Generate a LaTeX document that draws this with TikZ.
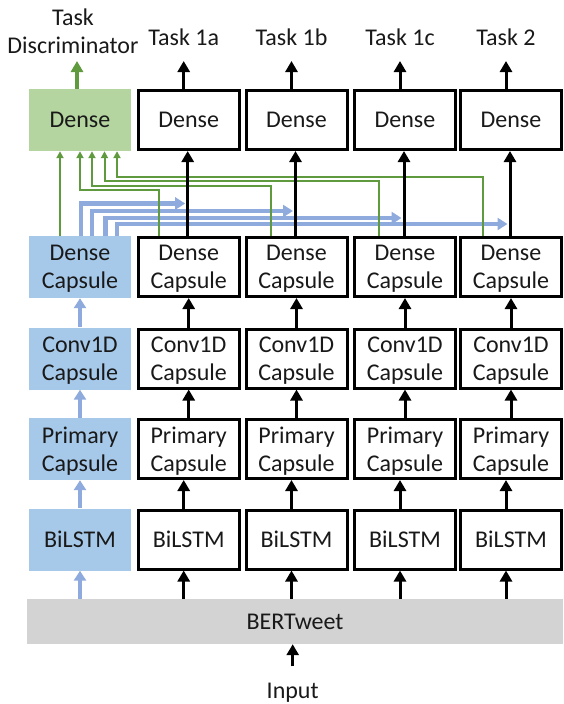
\documentclass[tikz,border=0pt]{standalone}
\usepackage{fontspec}
\setmainfont{Carlito}
\usetikzlibrary{arrows.meta,calc}
\definecolor{gfill}{HTML}{B4D59F}
\definecolor{bfill}{HTML}{A6C9EA}
\definecolor{barrow}{HTML}{8FAADC}
\definecolor{gline}{HTML}{5F9A3E}
\definecolor{bertgray}{HTML}{D3D3D3}
\begin{document}
\begin{tikzpicture}[x=1pt,y=-1pt,
  txt/.style={font=\fontsize{24}{28}\selectfont, align=center, inner sep=0pt, text depth=0pt, text=black!90},
  blk/.style={txt, draw=black, line width=3pt, minimum width=101pt, minimum height=59pt},
  lft/.style={txt, minimum width=102pt, minimum height=62pt},
  karrow/.style={draw=black, line width=3pt, -{Triangle[width=12pt,length=11pt]}},
  barr/.style={draw=barrow, line width=4.5pt, line join=miter, -{Triangle[width=12pt,length=10pt]}},
  garr/.style={draw=gline, line width=2pt, line join=miter, -{Triangle[width=7pt,length=7pt]}},
  gbig/.style={draw=gline, line width=4pt, -{Triangle[width=12pt,length=11pt]}},
]
\useasboundingbox (0,0) rectangle (563,704);

% left (shared) column
\node[lft, fill=gfill] (gD)  at (80,120)   {Dense};
\node[lft, fill=bfill] (bDC) at (80,267)   {Dense\\Capsule};
\node[lft, fill=bfill] (bCv) at (80,358.5) {Conv1D\\Capsule};
\node[lft, fill=bfill] (bPr) at (80,449)   {Primary\\Capsule};
\node[lft, fill=bfill] (bBi) at (80,539.5) {BiLSTM};

% BERTweet and input
\node[txt, fill=bertgray, minimum width=536pt, minimum height=45pt] (bert) at (295,621.5) {BERTweet};
\node[txt, anchor=base] (inp) at (292.7,698) {Input};

% task discriminator label
\node[txt, anchor=north] (TD) at (73,9) {Task\\Discriminator};
\coordinate (tipD) at (77,61);

% task columns
\foreach \i/\x/\lab in {1/188.7/Task 1a,2/296.5/Task 1b,3/405/Task 1c,4/511/Task 2}{
  \node[blk] (D\i)  at (\x,120)   {Dense};
  \node[blk] (DC\i) at (\x,267)   {Dense\\Capsule};
  \node[blk] (Cv\i) at (\x,358.5) {Conv1D\\Capsule};
  \node[blk] (Pr\i) at (\x,449)   {Primary\\Capsule};
  \node[blk] (Bi\i) at (\x,539.5) {BiLSTM};
  \node[txt, anchor=base] (T\i) at (\x-5,45) {\lab};
  \coordinate (tip\i) at (\x-5,61);
}

% blue shared-feature arrows
\foreach \i/\bx/\by in {1/81/203.5,2/92/211,3/105.5/218,4/117/224}{
  \draw[barr] (bDC.north -| \bx,0) |- ([xshift=-3.5pt]DC\i.north |- 0,\by);
}

% green feedback lines to task discriminator
\draw[garr] (bDC.north -| 60,0) -- (gD.south -| 60,0);
\foreach \i/\gx/\gy/\vx in {1/159/190/80,2/271/185.5/92,3/379/181/104.5,4/483/177/117}{
  \draw[garr] (DC\i.north -| \gx,0) |- (\vx,\gy) -- (gD.south -| \vx,0);
}

% left column arrows
\draw[barr] (bert.north -| bBi.south) -- (bBi.south);
\draw[barr] (bBi.north) -- (bPr.south);
\draw[barr] (bPr.north) -- (bCv.south);
\draw[barr] (bCv.north) -- (bDC.south);
\draw[gbig] ([xshift=-3pt]gD.north) -- (tipD);

% black column arrows
\foreach \i in {1,2,3,4}{
  \draw[karrow] ([xshift=-5pt]Bi\i.south |- bert.north) -- ([xshift=-5pt]Bi\i.south);
  \draw[karrow] ([xshift=-5pt]Bi\i.north) -- ([xshift=-5pt]Pr\i.south);
  \draw[karrow] (Pr\i.north) -- (Cv\i.south);
  \draw[karrow] (Cv\i.north) -- (DC\i.south);
  \draw[karrow] ([xshift=-1pt]DC\i.north) -- ([xshift=-1pt]D\i.south);
  \draw[karrow] ([xshift=-5pt]D\i.north) -- (tip\i);
}

% input arrow
\draw[karrow] ([yshift=16pt]inp.north) -- (bert.south -| inp.north);
\end{tikzpicture}
\end{document}
